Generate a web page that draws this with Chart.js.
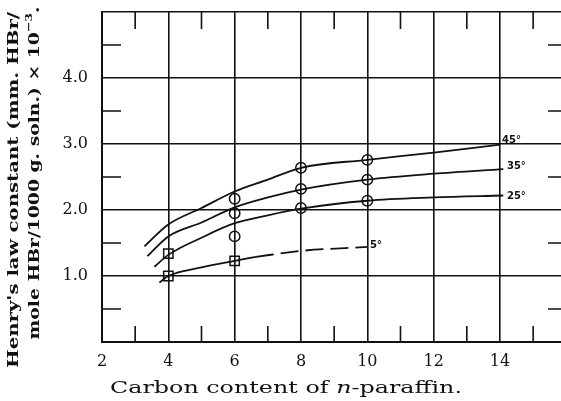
<!DOCTYPE html>
<html lang="en">
<head>
<meta charset="UTF-8" />
<title>Henry's law constant vs carbon content</title>
<script src="https://cdn.jsdelivr.net/npm/chart.js@4.4.0/dist/chart.umd.min.js"></script>
<style>
  html, body { margin: 0; padding: 0; background: #fff; }
</style>
</head>
<body>
<canvas id="chart" width="561" height="401"></canvas>
<script>
// ticks
const xTicks = [2, 4, 6, 8, 10, 12, 14];
const yTicks = [0, 1, 2, 3, 4, 5];
const xMinor = [3, 5, 7, 9, 11, 13, 15];
const yMinor = [0.5, 1.5, 2.5, 3.5, 4.5];

// smoothed curves
const c45X = [3.28, 4, 5, 6, 7, 8, 10, 12, 14];
const c45Y = [1.45, 1.78, 2.03, 2.28, 2.46, 2.64, 2.76, 2.87, 2.99];
const c35X = [3.37, 4, 5, 6, 7, 8, 10, 12, 14.1];
const c35Y = [1.30, 1.60, 1.81, 2.04, 2.19, 2.31, 2.46, 2.55, 2.62];
const c25X = [3.58, 4, 5, 6, 7, 8, 10, 12, 14.1];
const c25Y = [1.14, 1.32, 1.58, 1.80, 1.92, 2.02, 2.14, 2.19, 2.22];
const c5X = [3.73, 4, 5, 6, 6.64];
const c5Y = [0.90, 1.00, 1.13, 1.23, 1.29];
const c5dashX = [6.64, 8, 10];
const c5dashY = [1.29, 1.38, 1.44];

// measured points
const circX = [6, 6, 6, 8, 8, 8, 10, 10, 10];
const circY = [2.17, 1.95, 1.60, 2.64, 2.32, 2.03, 2.76, 2.46, 2.14];
const sqX = [4, 4, 6];
const sqY = [1.34, 1.00, 1.23];

// curve labels (temperature) and where they sit, in data units
const tempLabels = ["45°", "35°", "25°", "5°"];
const tempLabelX = [14.06, 14.21, 14.21, 10.08];
const tempLabelY = [3.06, 2.66, 2.21, 1.46];

const pts = (xs, ys) => xs.map((x, i) => ({ x: x, y: ys[i] }));

const ink = "#111";

function curve(xs, ys, dash) {
    return {
        type: "line",
        data: pts(xs, ys),
        borderColor: ink,
        borderWidth: 1.8,
        borderDash: dash || [],
        pointRadius: 0,
        cubicInterpolationMode: "monotone",
        fill: false,
    };
}

// minor ticks pointing inward from the frame
const minorTicks = {
    id: "minorTicks",
    beforeDatasetsDraw(chart) {
        const { ctx, chartArea: a, scales: { x, y } } = chart;
        ctx.save();
        ctx.strokeStyle = ink;
        ctx.lineWidth = 1.6;
        ctx.beginPath();
        for (const v of xMinor) {
            const px = x.getPixelForValue(v);
            ctx.moveTo(px, a.top); ctx.lineTo(px, a.top + 17);
            ctx.moveTo(px, a.bottom); ctx.lineTo(px, a.bottom - 16);
        }
        for (const v of yMinor) {
            const py = y.getPixelForValue(v);
            ctx.moveTo(a.left, py); ctx.lineTo(a.left + 19, py);
            ctx.moveTo(a.right, py); ctx.lineTo(a.right - 13, py);
        }
        ctx.stroke();
        ctx.restore();
    },
};

// draw a run of text pieces, stretched along its direction to a set length
function drawRun(ctx, pieces, cx, cy, length, angle) {
    let w = 0;
    for (const p of pieces) { ctx.font = p.font; w += ctx.measureText(p.text).width; }
    ctx.save();
    ctx.translate(cx, cy);
    ctx.rotate(angle);
    ctx.scale(length / w, 1);
    let pos = -w / 2;
    ctx.textBaseline = "middle";
    ctx.textAlign = "left";
    for (const p of pieces) {
        ctx.font = p.font;
        ctx.fillText(p.text, pos, p.dy || 0);
        pos += ctx.measureText(p.text).width;
    }
    ctx.restore();
}

const textLayer = {
    id: "textLayer",
    afterDraw(chart) {
        const { ctx, scales: { x, y } } = chart;
        ctx.save();
        ctx.fillStyle = ink;

        // temperature labels on the curves
        ctx.font = "bold 10px 'DejaVu Sans'";
        ctx.textBaseline = "middle";
        ctx.textAlign = "left";
        tempLabels.forEach((t, i) => {
            ctx.fillText(t, x.getPixelForValue(tempLabelX[i]), y.getPixelForValue(tempLabelY[i]));
        });

        // x axis title
        const serif = "17px 'DejaVu Serif'";
        drawRun(ctx, [
            { text: "Carbon content of ", font: serif },
            { text: "n", font: "italic 17px 'DejaVu Serif'" },
            { text: "-paraffin.", font: serif },
        ], 286, 389, 352, 0);

        // y axis title, two lines
        const bold = "bold 15px 'DejaVu Serif'";
        drawRun(ctx, [{ text: "Henry's law constant (mm. HBr/", font: bold }],
            14, 190, 356, -Math.PI / 2);
        drawRun(ctx, [
            { text: "mole HBr/1000 g. soln.) \u00d7 10", font: bold },
            { text: "\u22123", font: "bold 10px 'DejaVu Serif'", dy: -6 },
            { text: ".", font: bold },
        ], 35, 173, 333, -Math.PI / 2);
        ctx.restore();
    },
};

new Chart(document.getElementById("chart"), {
    data: {
        datasets: [
            curve(c45X, c45Y),
            curve(c35X, c35Y),
            curve(c25X, c25Y),
            curve(c5X, c5Y),
            curve(c5dashX, c5dashY, [18, 7]),
            {
                type: "scatter",
                data: pts(circX, circY),
                pointStyle: "circle",
                pointRadius: 5.2,
                borderColor: ink,
                borderWidth: 1.5,
                backgroundColor: "rgba(0,0,0,0)",
            },
            {
                type: "scatter",
                data: pts(sqX, sqY),
                pointStyle: "rect",
                pointRadius: 6.6,
                borderColor: ink,
                borderWidth: 1.5,
                backgroundColor: "rgba(0,0,0,0)",
            },
        ],
    },
    options: {
        responsive: false,
        animation: false,
        events: [],
        layout: { autoPadding: false, padding: { top: 12, right: 0, left: 0, bottom: 0 } },
        plugins: {
            legend: { display: false },
            tooltip: { enabled: false },
        },
        scales: {
            x: {
                type: "linear",
                min: 2,
                max: 15.84,
                afterBuildTicks: (s) => { s.ticks = xTicks.map((v) => ({ value: v })); },
                afterFit: (s) => {
                    s.height = 59;
                    s.paddingLeft = 0;
                    s.paddingRight = 0;
                },
                grid: { color: ink, lineWidth: 1.6, drawTicks: false },
                border: { color: ink, width: 2 },
                ticks: {
                    color: ink,
                    padding: 10,
                    maxRotation: 0,
                    font: { family: "'DejaVu Serif'", size: 16 },
                },
            },
            y: {
                type: "linear",
                min: 0,
                max: 5,
                afterBuildTicks: (s) => { s.ticks = yTicks.map((v) => ({ value: v })); },
                afterFit: (s) => {
                    s.width = 102;
                    s.paddingTop = 0;
                    s.paddingBottom = 0;
                },
                grid: { color: ink, lineWidth: 1.6, drawTicks: false },
                border: { color: ink, width: 2 },
                ticks: {
                    color: ink,
                    padding: 14,
                    font: { family: "'DejaVu Serif'", size: 16 },
                    callback: (v) => (v > 0 && v < 5 ? v.toFixed(1) : ""),
                },
            },
        },
    },
    plugins: [minorTicks, textLayer],
});
</script>
</body>
</html>
